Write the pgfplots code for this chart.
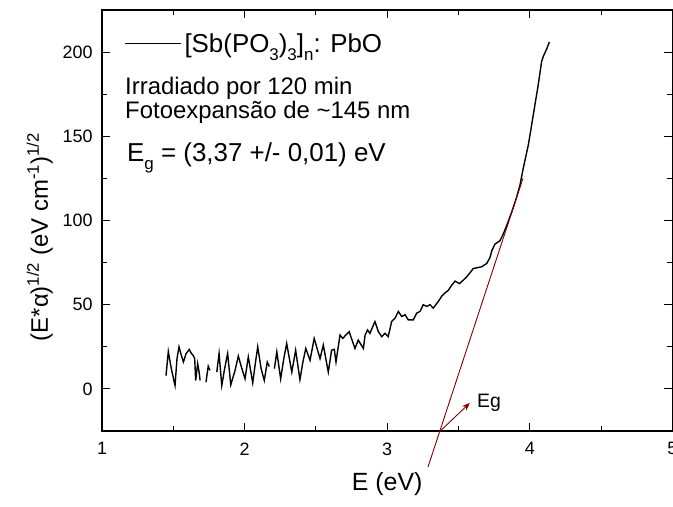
\documentclass[border=0pt]{standalone}
\usepackage{fontspec}
\setmainfont{Liberation Sans}
\usepackage{pgfplots}
\pgfplotsset{compat=1.18}
\usetikzlibrary{arrows.meta}
\definecolor{wine}{RGB}{128,0,0}
\newcommand\sub[1]{\raisebox{-0.3em}{\fontsize{17}{17}\selectfont #1}}

\begin{document}
\begin{tikzpicture}
\begin{axis}[
  at={(0,0)}, anchor=south west,
  scale only axis, width=570.4bp, height=421bp,
  xmin=1, xmax=5, ymin=-25, ymax=225,
  xtick={1,2,3,4,5}, ytick={0,50,100,150,200},
  minor x tick num=1, minor y tick num=1,
  tick align=inside,
  xtick pos=both, ytick pos=both,
  major tick length=8bp, minor tick length=5bp,
  axis line style={line width=1.2bp},
  every tick/.style={black, line width=1bp},
  /pgf/number format/assume math mode=true,
  ticklabel style={font=\fontsize{18}{18}\selectfont},
  xticklabel style={yshift=-8bp},
  yticklabel style={xshift=-6bp},
  xlabel={E (eV)},
  xlabel style={font=\fontsize{25}{25}\selectfont, at={(axis description cs:0.5,-0.09)}, anchor=north},
  ylabel={(E*α)\textsuperscript{1/2} (eV cm\textsuperscript{-1})\textsuperscript{1/2}},
  ylabel style={font=\fontsize{24}{24}\selectfont, at={(axis description cs:-0.0947,0.461)}, anchor=base},
  clip=false,
  legend style={draw=none, fill=none, inner sep=0pt, font=\fontsize{26}{26}\selectfont,
    nodes={inner sep=3bp},
    at={(axis description cs:0.0386,0.92)}, anchor=west},
  legend cell align=left,
  legend image code/.code={\draw[line width=1.3bp] (0bp,0bp) -- (56bp,0bp);},
]
\addplot[black, line width=1.4bp] coordinates {
(1.449,7.9) (1.465,22.2) (1.486,12) (1.512,2) (1.526,18) (1.540,25) (1.556,20)
(1.571,16) (1.590,21) (1.612,23.4) (1.627,21) (1.640,19.8) (1.650,18) (1.657,5)
(1.664,10) (1.671,15) (1.681,10) (1.688,5)
};
\addlegendentry{[Sb(PO\sub{3})\sub{3}]\sub{n}: PbO}
\addplot[black, line width=1.4bp, forget plot] coordinates {
(1.729,4) (1.745,13.5) (1.757,11)
};
\addplot[black, line width=1.4bp, forget plot] coordinates {
(1.805,10) (1.821,21) (1.840,2) (1.860,12) (1.881,21) (1.903,2.4) (1.933,11)
(1.956,19.5) (1.974,14) (2.003,6) (2.026,19) (2.057,3.6) (2.075,15) (2.092,25)
(2.116,12) (2.138,5) (2.159,16) (2.173,13.3)
};
\addplot[black, line width=1.4bp, forget plot] coordinates {
(2.209,12) (2.226,22) (2.253,6) (2.275,18) (2.295,27) (2.331,10) (2.358,23)
(2.388,5.5) (2.409,16) (2.429,24) (2.459,17) (2.488,30) (2.529,18) (2.552,26)
(2.587,10) (2.610,23) (2.629,23.5) (2.641,16) (2.669,32) (2.688,30) (2.733,34)
(2.774,24) (2.797,29) (2.833,24) (2.845,32) (2.862,35) (2.879,33) (2.914,40)
(2.938,34) (2.962,31) (2.985,33) (3.007,31) (3.031,40) (3.055,42) (3.078,46)
(3.102,43) (3.125,44) (3.148,41) (3.183,41) (3.207,45) (3.230,46) (3.253,50)
(3.277,49) (3.300,50) (3.323,48) (3.359,52) (3.382,55) (3.405,57) (3.428,58.5)
(3.452,61.5) (3.476,64) (3.506,62.5) (3.533,64.5) (3.557,66.5) (3.581,69)
(3.604,71.5) (3.662,72.5) (3.698,74.5) (3.721,78) (3.733,82) (3.756,86)
(3.791,88) (3.814,92) (3.838,97) (3.873,105) (3.908,114) (3.931,121) (3.954,131)
(3.990,145) (4.025,163) (4.059,180.5) (4.083,194.5) (4.095,197.5) (4.119,202)
(4.137,206)
};
\addplot[wine, line width=0.9bp, forget plot] coordinates {(3.286,-46.4) (3.952,125)};
\draw[wine, line width=0.9bp, -{Stealth[length=8bp,width=6bp]}] (axis cs:3.372,-25) -- (axis cs:3.580,-8.3);
\node[anchor=west, inner sep=0pt, font=\fontsize{19.5}{19.5}\selectfont] at (axis cs:3.63,-8.5) {Eg};
\end{axis}
\node[anchor=base west, inner sep=0pt, font=\fontsize{24}{24}\selectfont] at (23bp,336bp) {Irradiado por 120 min};
\node[anchor=base west, inner sep=0pt, font=\fontsize{24}{24}\selectfont] at (23bp,312bp) {Fotoexpansão de \textasciitilde145 nm};
\node[anchor=base west, inner sep=0pt, font=\fontsize{26}{26}\selectfont] at (25bp,269bp) {E\sub{g} = (3,37 +/- 0,01) eV};
\pgfresetboundingbox
\path[use as bounding box] (-102bp,-76bp) rectangle (571bp,431bp);
\end{tikzpicture}
\end{document}
